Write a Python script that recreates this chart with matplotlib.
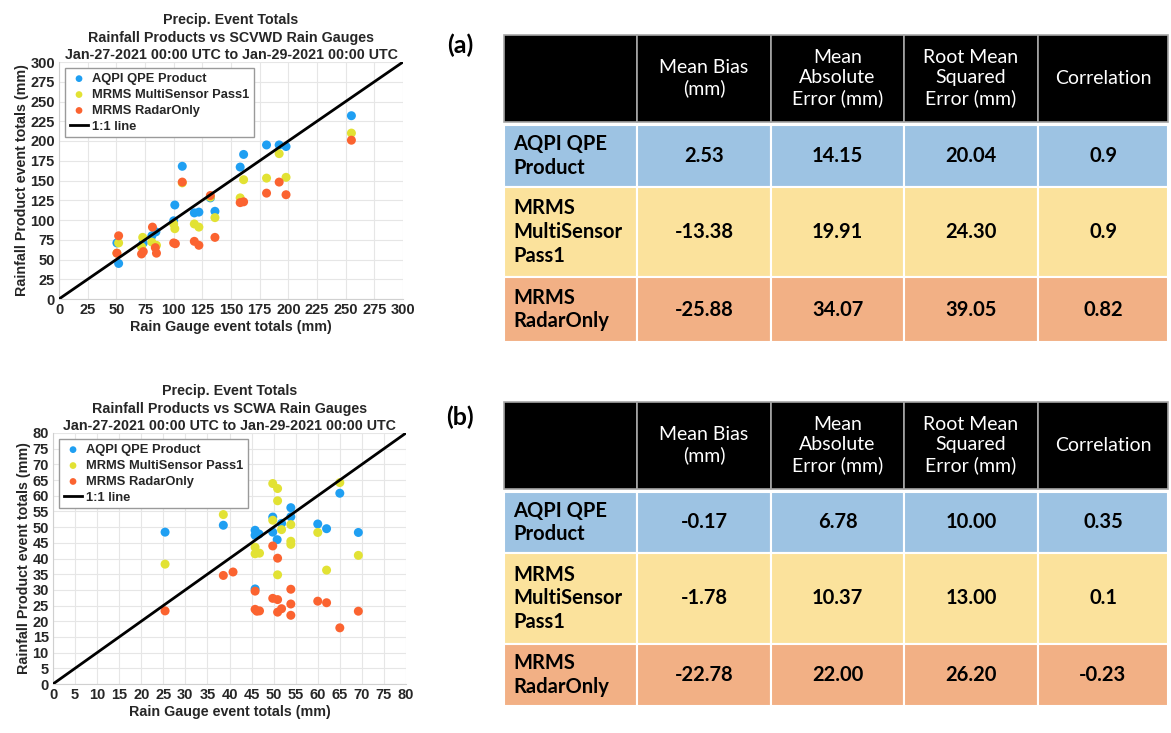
import matplotlib
matplotlib.use("Agg")
import matplotlib.pyplot as plt
from matplotlib.patches import Rectangle

# --- scatter data (a): SCVWD gauges ---
gauge_aqpi_a = [50.5, 52, 72, 73.5, 81, 84.5, 100, 101, 107.5, 118, 122, 132, 136, 158, 161, 181, 192, 198, 255]
aqpi_a = [71, 45, 67, 71, 80, 85, 99, 119, 168, 109, 110, 128, 111, 167, 183, 195, 195, 193, 232]
gauge_ms_a = [50.5, 52, 72, 73, 81, 85, 100, 101, 107.5, 118, 122, 132, 136, 158, 161, 181, 192, 198, 255]
mrms_ms_a = [58, 71, 66, 78, 72, 68, 95, 89, 147, 95, 91, 129, 103, 128, 151, 153, 184, 154, 210]
gauge_ro_a = [50.5, 52, 72, 73.5, 81.5, 84, 85, 100, 101.5, 107.5, 118, 122, 132, 136, 158, 161, 181, 192, 198, 255]
radar_a = [58, 80, 57, 60, 91, 65, 58, 71, 70, 148, 73, 68, 131, 78, 122, 123, 134, 148, 132, 201]

# --- scatter data (b): SCWA gauges ---
gauge_aqpi_b = [25.4, 38.6, 45.8, 45.8, 46.7, 45.8, 49.8, 49.8, 50.8, 51.8, 53.9, 53.9, 60, 62, 65, 69.2]
aqpi_b = [48.4, 50.6, 49.0, 47.4, 47.8, 30.3, 53.2, 48.4, 46.0, 51.2, 56.2, 53.3, 51.0, 49.5, 60.8, 48.3]
gauge_ms_b = [25.4, 38.6, 45.8, 45.8, 46.8, 49.8, 50.9, 50.9, 49.8, 50.9, 51.8, 53.9, 53.9, 53.9, 60, 62, 65, 69.2]
mrms_ms_b = [38.2, 54.0, 43.6, 41.5, 41.7, 63.9, 62.3, 58.4, 52.2, 34.8, 49.2, 50.8, 45.5, 44.5, 48.3, 36.3, 64.2, 41.0]
gauge_ro_b = [25.4, 38.6, 40.8, 45.8, 45.8, 46.2, 46.8, 49.8, 49.8, 50.9, 50.9, 50.9, 51.8, 53.9, 53.9, 53.9, 60, 62, 65, 69.2]
radar_b = [23.3, 34.6, 35.7, 29.6, 23.8, 23.2, 23.3, 44.0, 27.3, 40.1, 26.9, 22.9, 24.0, 30.2, 25.5, 21.9, 26.4, 25.9, 17.9, 23.2]

series_names = ["AQPI QPE Product", "MRMS MultiSensor Pass1", "MRMS RadarOnly"]
series_colors = ["#1f9ff2", "#e2e234", "#fb6330"]

# --- table data ---
col_headers = ["", "Mean Bias\n(mm)", "Mean\nAbsolute\nError (mm)", "Root Mean\nSquared\nError (mm)", "Correlation"]
row_labels = ["AQPI QPE\nProduct", "MRMS\nMultiSensor\nPass1", "MRMS\nRadarOnly"]
row_colors = ["#9dc3e3", "#fbe29c", "#f2b085"]
table_a = [["2.53", "14.15", "20.04", "0.9"],
           ["-13.38", "19.91", "24.30", "0.9"],
           ["-25.88", "34.07", "39.05", "0.82"]]
table_b = [["-0.17", "6.78", "10.00", "0.35"],
           ["-1.78", "10.37", "13.00", "0.1"],
           ["-22.78", "22.00", "26.20", "-0.23"]]

W, H = 1171, 733
fig = plt.figure(figsize=(W / 100, H / 100), dpi=100)

txt_color = "#262626"
bold = dict(fontweight="bold", color=txt_color, family="Liberation Sans")


def scatter_panel(rect, lim, step, data, title):
    ax = fig.add_axes([rect[0] / W, 1 - rect[3] / H, (rect[2] - rect[0]) / W, (rect[3] - rect[1]) / H])
    for (gx, gy), name, c in zip(data, series_names, series_colors):
        ax.scatter(gx, gy, s=42, color=c, edgecolors="none", label=name, zorder=3)
    ax.plot([0, lim], [0, lim], color="black", lw=2, label="1:1 line", zorder=4)
    ax.set_xlim(0, lim)
    ax.set_ylim(0, lim)
    ticks = list(range(0, lim + 1, step))
    ax.set_xticks(ticks)
    ax.set_yticks(ticks)
    ax.grid(True, color="#e6e6e6", lw=0.8, zorder=0)
    ax.tick_params(length=0, pad=3, labelsize=10.5, labelcolor=txt_color)
    for lab in ax.get_xticklabels() + ax.get_yticklabels():
        lab.set_fontweight("bold")
        lab.set_family("Liberation Sans")
    for sp in ax.spines.values():
        sp.set_color("#d0d0d0")
    ax.spines["top"].set_visible(False)
    ax.spines["right"].set_visible(False)
    ax.set_xlabel("Rain Gauge event totals (mm)", fontsize=10.3, labelpad=2, **bold)
    ax.set_ylabel("Rainfall Product event totals (mm)", fontsize=10.3, labelpad=1, **bold)
    ax.set_title(title, fontsize=10.3, linespacing=1.3, pad=1, **bold)
    leg = ax.legend(loc="upper left", prop={"weight": "bold", "size": 9.3, "family": "Liberation Sans"},
                    fancybox=False, edgecolor="#9a9a9a", framealpha=1, handlelength=1.4,
                    handletextpad=0.3, borderaxespad=0.5, labelspacing=0.3, markerscale=0.75,
                    borderpad=0.35)
    for t in leg.get_texts():
        t.set_color(txt_color)
    return ax


scatter_panel((59, 62, 403, 299), 300, 25,
              [(gauge_aqpi_a, aqpi_a), (gauge_ms_a, mrms_ms_a), (gauge_ro_a, radar_a)],
              "Precip. Event Totals\nRainfall Products vs SCVWD Rain Gauges\nJan-27-2021 00:00 UTC to Jan-29-2021 00:00 UTC")
scatter_panel((53, 433, 406, 684), 80, 5,
              [(gauge_aqpi_b, aqpi_b), (gauge_ms_b, mrms_ms_b), (gauge_ro_b, radar_b)],
              "Precip. Event Totals\nRainfall Products vs SCWA Rain Gauges\nJan-27-2021 00:00 UTC to Jan-29-2021 00:00 UTC")

# table drawing on a pixel-space overlay
over = fig.add_axes([0, 0, 1, 1])
over.set_xlim(0, W)
over.set_ylim(H, 0)
over.axis("off")

col_edges = [504, 637, 771, 904, 1038, 1168]
tfont = "Lato"


def draw_table(row_edges, values, tag, tag_y):
    over.text(460, tag_y, tag, fontsize=18, fontweight="bold", family=tfont, ha="center", va="center")
    # header
    for j in range(5):
        x0, x1 = col_edges[j], col_edges[j + 1]
        over.add_patch(Rectangle((x0, row_edges[0]), x1 - x0, row_edges[1] - row_edges[0],
                                 facecolor="black", edgecolor="#a6a6a6", lw=1.2))
        over.text((x0 + x1) / 2, (row_edges[0] + row_edges[1]) / 2, col_headers[j], color="white",
                  fontsize=14, family=tfont, ha="center", va="center", linespacing=1.22)
    # body rows
    for i in range(3):
        y0, y1 = row_edges[i + 1] + (3 if i == 0 else 0), row_edges[i + 2]
        for j in range(5):
            x0, x1 = col_edges[j], col_edges[j + 1]
            over.add_patch(Rectangle((x0, y0), x1 - x0, y1 - y0, facecolor=row_colors[i],
                                     edgecolor="white", lw=1.5))
        over.text(col_edges[0] + 9, (y0 + y1) / 2, row_labels[i], fontsize=14.5, fontweight="bold",
                  family=tfont, ha="left", va="center", linespacing=1.22)
        for j, v in enumerate(values[i]):
            over.text((col_edges[j + 1] + col_edges[j + 2]) / 2, (y0 + y1) / 2, v, fontsize=14.5,
                      fontweight="bold", family=tfont, ha="center", va="center")


draw_table([35, 122, 187, 277, 342], table_a, "(a)", 45)
draw_table([402, 489, 553, 644, 706], table_b, "(b)", 417)

fig.savefig("out.png", dpi=100)
